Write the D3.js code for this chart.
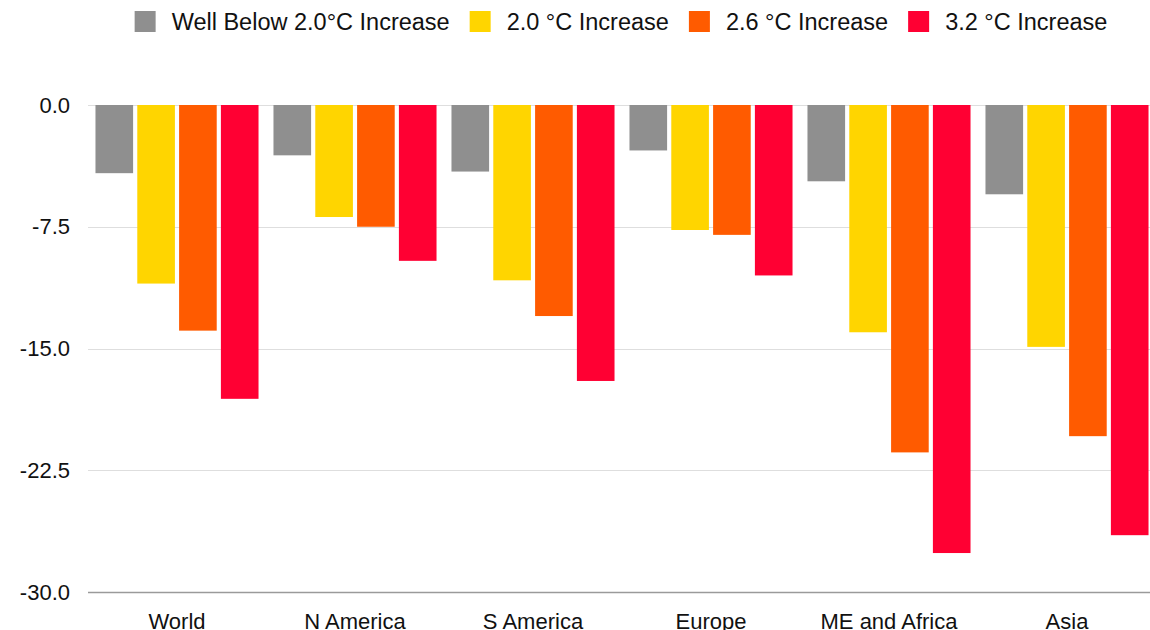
<!DOCTYPE html>
<html>
<head>
<meta charset="utf-8">
<script src="https://cdn.jsdelivr.net/npm/d3@7"></script>
<style>
  body { margin: 0; background: #fff; }
  svg { display: block; font-family: "Liberation Sans", Arial, sans-serif; }
</style>
</head>
<body>
<svg id="chart" width="1150" height="630"></svg>
<script>
// regions and scenarios
var regions = ["World", "N America", "S America", "Europe", "ME and Africa", "Asia"];
var scenarios = ["Well Below 2.0°C Increase", "2.0 °C Increase", "2.6 °C Increase", "3.2 °C Increase"];
var colors = ["#8f8f8f", "#ffd500", "#ff5b00", "#ff0033"];

// values per scenario, in region order
var wellBelow = [-4.2, -3.1, -4.1, -2.8, -4.7, -5.5];
var inc20 = [-11.0, -6.9, -10.8, -7.7, -14.0, -14.9];
var inc26 = [-13.9, -7.5, -13.0, -8.0, -21.4, -20.4];
var inc32 = [-18.1, -9.6, -17.0, -10.5, -27.6, -26.5];
var yTicks = [0, -7.5, -15, -22.5, -30];

var series = [wellBelow, inc20, inc26, inc32];

var svg = d3.select("#chart");
var plotLeft = 88, plotRight = 1156, plotTop = 105, plotBottom = 592;

var x = d3.scaleBand().domain(regions).range([plotLeft, plotRight]).paddingInner(0.084).paddingOuter(0.042);
var xs = d3.scaleBand().domain(d3.range(4)).range([0, x.bandwidth()]).paddingInner(0.1).paddingOuter(0);
var y = d3.scaleLinear().domain([0, -30]).range([plotTop, plotBottom]);

// grid lines
svg.append("g").selectAll("line")
  .data(yTicks)
  .join("line")
  .attr("x1", plotLeft).attr("x2", 1150)
  .attr("y1", function(d) { return Math.round(y(d)) + 0.5; })
  .attr("y2", function(d) { return Math.round(y(d)) + 0.5; })
  .attr("stroke", function(d) { return d === -30 ? "#9a9a9a" : "#dedede"; })
  .attr("stroke-width", function(d) { return d === -30 ? 1.5 : 1.2; });

// y labels
svg.append("g").selectAll("text")
  .data(yTicks)
  .join("text")
  .attr("x", 70)
  .attr("y", function(d) { return y(d); })
  .attr("dy", "0.35em")
  .attr("text-anchor", "end")
  .attr("font-size", 22)
  .attr("fill", "#111")
  .text(function(d) { return d3.format(".1f")(d).replace("−", "-"); });

// bars
var groups = svg.append("g").selectAll("g")
  .data(regions)
  .join("g")
  .attr("transform", function(d) { return "translate(" + x(d) + ",0)"; });

groups.selectAll("rect")
  .data(function(r, ri) { return series.map(function(s, si) { return {si: si, v: s[ri]}; }); })
  .join("rect")
  .attr("x", function(d) { return xs(d.si); })
  .attr("width", xs.bandwidth())
  .attr("y", y(0))
  .attr("height", function(d) { return y(d.v) - y(0); })
  .attr("fill", function(d) { return colors[d.si]; });

// x labels
svg.append("g").selectAll("text")
  .data(regions)
  .join("text")
  .attr("x", function(d) { return x(d) + x.bandwidth() / 2; })
  .attr("y", 629)
  .attr("text-anchor", "middle")
  .attr("font-size", 22)
  .attr("fill", "#111")
  .text(function(d) { return d; });

// legend
var legend = svg.append("g");
var items = legend.selectAll("g").data(scenarios).join("g");
items.append("rect")
  .attr("width", 21).attr("height", 21)
  .attr("y", 11)
  .attr("fill", function(d, i) { return colors[i]; });
items.append("text")
  .attr("x", 37).attr("y", 22).attr("dy", "0.35em")
  .attr("font-size", 23.5)
  .attr("fill", "#111")
  .text(function(d) { return d; });

var pos = 0, offs = [];
items.each(function() {
  offs.push(pos);
  var w = d3.select(this).select("text").node().getComputedTextLength();
  pos += 37 + w + 20;
});
var total = pos - 20;
var start = 621 - total / 2;
items.attr("transform", function(d, i) { return "translate(" + (start + offs[i]) + ",0)"; });
</script>
</body>
</html>
